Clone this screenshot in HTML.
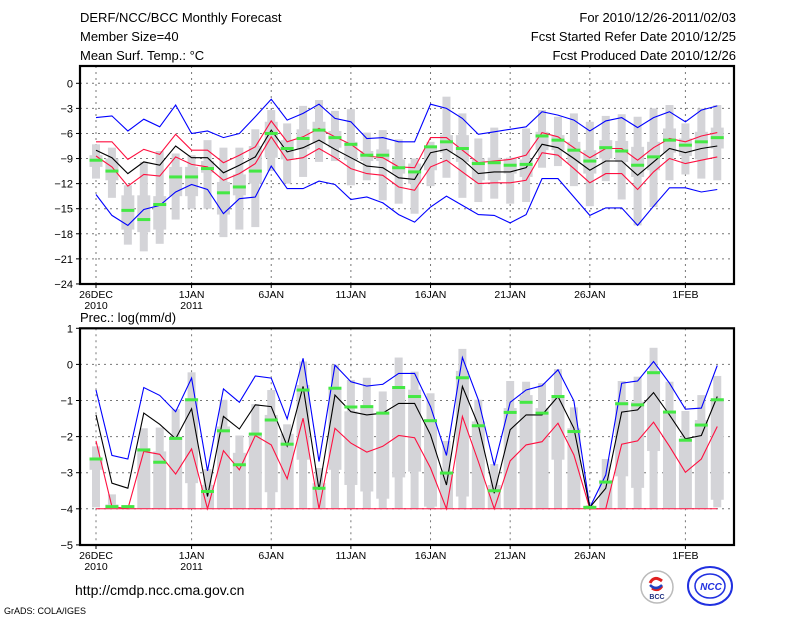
<!DOCTYPE html>
<html><head><meta charset="utf-8"><style>
html,body{margin:0;padding:0;background:#fff;}
svg{display:block;font-family:"Liberation Sans",sans-serif;}
</style></head><body>
<svg id="c" width="800" height="618" xmlns="http://www.w3.org/2000/svg">
<text x="80" y="22" font-size="13">DERF/NCC/BCC Monthly Forecast</text>
<text x="80" y="41" font-size="13">Member Size=40</text>
<text x="80" y="60" font-size="13">Mean Surf. Temp.: °C</text>
<text x="736" y="22" font-size="13" text-anchor="end">For 2010/12/26-2011/02/03</text>
<text x="736" y="41" font-size="13" text-anchor="end">Fcst Started Refer Date 2010/12/25</text>
<text x="736" y="60" font-size="13" text-anchor="end">Fcst Produced Date 2010/12/26</text>
<text x="80" y="322" font-size="13">Prec.: log(mm/d)</text>
<text x="75" y="595" font-size="14">http://cmdp.ncc.cma.gov.cn</text>
<text x="4" y="614" font-size="9">GrADS: COLA/IGES</text>
<g>
<circle cx="657" cy="587" r="16" fill="#fff" stroke="#bbb" stroke-width="1.5"/>
<path d="M650 583 q4 -8 12 -2 M652 588 q6 4 10 -2" stroke="#e02020" stroke-width="3" fill="none"/>
<path d="M650 585 q6 6 12 0" stroke="#2040c0" stroke-width="2.5" fill="none"/>
<text x="657" y="599" font-size="7" font-weight="bold" fill="#203080" text-anchor="middle">BCC</text>
</g>
<g>
<ellipse cx="710" cy="586" rx="22" ry="19" fill="#fff" stroke="#2030e0" stroke-width="2"/>
<ellipse cx="710" cy="586" rx="15" ry="12" fill="none" stroke="#2030e0" stroke-width="1.5"/>
<text x="711" y="590" font-size="10" font-weight="bold" font-style="italic" fill="#2030e0" text-anchor="middle">NCC</text>
</g>
</svg>
<script>
// ---- Temperature panel data ----
const days = [0,1,2,3,4,5,6,7,8,9,10,11,12,13,14,15,16,17,18,19,20,21,22,23,24,25,26,27,28,29,30,31,32,33,34,35,36,37,38,39];
const tBlueHi = [-4.1,-3.9,-5.7,-4.3,-5.2,-2.6,-6.0,-5.7,-6.5,-6.0,-4.0,-1.9,-4.4,-3.6,-2.5,-4.2,-4.6,-6.6,-6.5,-7.0,-7.0,-2.5,-3.0,-4.2,-6.1,-5.8,-5.5,-5.2,-3.4,-3.8,-4.4,-5.7,-4.5,-4.1,-5.3,-4.1,-3.4,-4.6,-3.2,-2.7];
const tRedHi = [-7.0,-7.0,-9.1,-7.9,-8.5,-6.1,-8.0,-8.0,-9.5,-8.6,-7.6,-4.5,-7.0,-6.4,-5.4,-6.4,-7.3,-8.7,-8.9,-10.0,-10.1,-6.5,-6.5,-8.0,-9.5,-9.3,-9.1,-8.6,-5.9,-6.4,-7.7,-8.9,-7.8,-7.8,-9.2,-7.7,-6.6,-7.0,-6.3,-5.9];
const tMean = [-8.0,-8.9,-10.8,-9.4,-9.8,-7.5,-8.9,-8.9,-10.7,-9.8,-8.8,-5.6,-8.2,-7.7,-6.8,-7.9,-8.9,-9.9,-10.1,-11.3,-11.5,-8.3,-7.9,-9.1,-10.8,-10.6,-10.6,-10.1,-7.3,-7.7,-9.0,-10.4,-9.3,-9.3,-11.0,-9.4,-7.8,-8.3,-7.8,-7.5];
const tRedLo = [-8.7,-10.0,-12.3,-10.9,-11.1,-8.8,-9.7,-10.0,-11.6,-10.8,-9.6,-6.4,-9.2,-8.9,-7.8,-8.9,-10.2,-10.8,-11.0,-12.4,-12.8,-10.0,-9.2,-10.6,-12.0,-11.9,-11.9,-11.6,-8.3,-8.6,-10.2,-11.9,-10.8,-10.8,-12.7,-10.6,-9.0,-9.6,-9.2,-8.8];
const tBlueLo = [-13.3,-15.8,-17.0,-15.1,-14.6,-13.0,-12.1,-12.7,-15.6,-13.8,-13.6,-9.9,-12.6,-12.6,-11.7,-12.1,-13.9,-13.6,-14.3,-15.7,-16.6,-14.8,-13.5,-14.6,-15.7,-15.8,-16.7,-15.7,-11.4,-11.4,-13.6,-15.8,-14.9,-14.9,-17.0,-14.7,-12.5,-12.5,-13.0,-12.7];
const tMax = [-7.3,-7.7,-12.2,-9.4,-8.1,-8.4,-8.6,-6.8,-7.7,-7.7,-5.5,-3.2,-4.8,-2.7,-2.0,-3.3,-3.1,-5.9,-5.6,-6.7,-9.0,-7.0,-1.6,-3.6,-6.6,-5.3,-8.9,-5.4,-3.2,-4.0,-3.6,-4.6,-3.9,-3.7,-4.0,-3.0,-2.6,-4.8,-3.0,-2.6];
const tQ3 = [-8.6,-9.0,-13.4,-13.4,-13.5,-10.0,-10.0,-9.3,-11.8,-10.9,-7.5,-4.6,-6.8,-5.5,-4.6,-5.7,-7.0,-8.1,-7.9,-9.1,-9.6,-7.6,-6.2,-6.2,-9.0,-8.9,-9.0,-9.1,-5.8,-6.2,-7.0,-8.0,-6.8,-6.9,-7.6,-7.0,-5.4,-6.6,-5.8,-5.3];
const tQ1 = [-10.0,-11.6,-17.5,-17.8,-17.5,-13.5,-13.5,-10.7,-15.7,-13.4,-12.0,-8.9,-9.1,-7.9,-7.2,-7.7,-9.2,-9.3,-9.3,-10.8,-12.0,-10.4,-8.3,-9.4,-11.6,-11.6,-10.8,-11.2,-8.0,-8.0,-9.6,-10.8,-9.0,-9.4,-11.2,-10.4,-8.3,-8.7,-9.1,-7.8];
const tMin = [-11.4,-13.7,-19.3,-20.1,-19.2,-16.3,-15.0,-15.0,-18.4,-17.5,-17.2,-10.5,-12.0,-11.2,-9.4,-9.3,-12.2,-11.6,-14.0,-14.4,-15.6,-12.3,-11.3,-13.7,-14.2,-13.8,-14.4,-14.2,-10.1,-9.9,-12.3,-14.7,-11.7,-13.9,-17.0,-14.8,-11.6,-10.9,-11.4,-11.6];
const tMed = [-9.2,-10.5,-15.2,-16.3,-14.5,-11.2,-11.2,-10.2,-13.1,-12.4,-10.5,-6.0,-7.8,-6.6,-5.6,-6.5,-7.3,-8.6,-8.6,-10.1,-10.6,-7.6,-7.0,-7.8,-9.6,-9.5,-9.8,-9.7,-6.3,-6.8,-8.0,-9.3,-7.7,-8.1,-9.8,-8.8,-6.8,-7.4,-7.0,-6.5];
const tTicks = [0,-3,-6,-9,-12,-15,-18,-21,-24];
// ---- Precipitation panel data ----
const pBlueHi = [-0.71,-2.52,-2.62,-0.64,-0.86,-1.31,-0.38,-2.95,-0.68,-1.05,-0.32,-0.38,-1.51,0.17,-2.69,-0.02,-0.48,-0.6,-0.55,-0.25,-0.25,-1.17,-2.52,0.19,-0.98,-2.8,-1.05,-0.71,-0.59,-0.15,-1.01,-3.96,-3.06,-0.52,-0.46,0.08,-0.52,-1.24,-1.21,-0.03];
const pMean = [-1.4,-3.29,-3.43,-1.35,-1.66,-2.06,-1.23,-3.66,-1.44,-1.79,-1.12,-1.17,-2.26,-0.61,-3.47,-0.85,-1.31,-1.4,-1.35,-1.08,-1.08,-1.95,-3.34,-0.61,-1.68,-3.57,-1.81,-1.4,-1.4,-0.89,-1.77,-3.96,-3.43,-1.32,-1.26,-0.78,-1.4,-2.06,-1.97,-0.89];
const pRedLo = [-2.12,-3.94,-4,-2.41,-2.49,-3.04,-2.34,-4,-2.39,-2.92,-1.97,-2.23,-3.17,-1.49,-4,-1.77,-2.18,-2.43,-2.27,-1.97,-2.03,-2.87,-4,-1.44,-2.69,-4,-2.67,-2.23,-2.14,-1.63,-2.51,-4,-4,-2.21,-2.12,-1.6,-2.27,-2.99,-2.62,-1.72];
const pMax = [-2.27,-3.6,-3.9,-1.77,-1.75,-1.24,-0.22,-2.9,-0.98,-1.97,-1.1,-0.71,-1.66,0.08,-2.87,-0.01,-0.43,-0.37,-0.75,0.19,-0.2,-0.8,-2.12,0.43,-0.98,-2.76,-0.46,-0.48,-0.52,-0.13,-1.19,-3.9,-2.62,-0.46,-0.34,0.46,-0.48,-1.29,-0.85,-0.32];
const pQ3 = [-2.6,-3.88,-3.9,-2.32,-2.41,-2.05,-0.94,-3.34,-1.72,-2.45,-1.9,-1.4,-1.92,-0.57,-3.29,-0.66,-1.3,-1.21,-1.31,-0.66,-0.7,-1.58,-3.0,-0.18,-1.58,-3.34,-1.21,-0.85,-1.21,-0.85,-1.77,-3.92,-3.2,-1.03,-1.03,-0.18,-1.31,-2.06,-1.54,-0.94];
const pQ1 = [-2.92,-4,-4,-4,-4,-4,-3.29,-4,-4,-4,-4,-3.54,-4,-2.64,-4,-2.92,-3.34,-3.52,-3.72,-3.13,-2.97,-3.94,-4,-3.66,-4,-4,-4,-4,-4,-2.64,-4,-4,-4,-3.1,-3.42,-2.4,-4,-4,-4,-3.75];
const pMin = [-3.96,-4,-4,-4,-4,-4,-4,-4,-4,-4,-4,-4,-4,-4,-4,-4,-4,-4,-4,-4,-4,-4,-4,-4,-4,-4,-4,-4,-4,-4,-4,-4,-4,-4,-4,-4,-4,-4,-4,-3.96];
const pMed = [-2.62,-3.94,-3.94,-2.37,-2.71,-2.05,-0.98,-3.52,-1.84,-2.78,-1.93,-1.54,-2.21,-0.71,-3.43,-0.66,-1.18,-1.17,-1.35,-0.64,-0.89,-1.56,-3.01,-0.37,-1.7,-3.5,-1.33,-1.05,-1.35,-0.89,-1.86,-3.96,-3.26,-1.09,-1.12,-0.23,-1.32,-2.1,-1.68,-0.98];
const pTicks = [1,0,-1,-2,-3,-4,-5];
// ---- X axis labels ----
const dateTickDays = [0,6,11,16,21,26,31,37];
const dateTickLabels = ["26DEC","1JAN","6JAN","11JAN","16JAN","21JAN","26JAN","1FEB"];
const yearTickDays = [0,6];
const yearTickLabels = ["2010","2011"];

const NS = "http://www.w3.org/2000/svg";
const svg = document.getElementById('c');
const L = 80, R = 734;
const xS = d => 96 + 15.93 * d;
const yT = v => 83.3 - v * 8.36;
const yP = v => 328.3 + (1 - v) * 36.1;
function mk(tag, attrs, parent) {
  const e = document.createElementNS(NS, tag);
  for (const k in attrs) e.setAttribute(k, attrs[k]);
  (parent || svg).appendChild(e);
  return e;
}

function panel(prefix, top, bottom, yF, ticks, series, boxes, floorLine) {
  const g = mk('g', {});
  
  
  ticks.forEach(t => {
    const y = yF(t);
    if (y > top + 1 && y < bottom - 1) {
      const gl = mk('line', {x1: L, x2: R, y1: y, y2: y, stroke: '#777', 'stroke-width': 1, 'stroke-dasharray': '2,4'}, g);
      
      
    }
    const tk = mk('line', {x1: L - 4, x2: L, y1: y, y2: y, stroke: '#000'}, g);
    
    
    const tx = mk('text', {x: L - 7, y: y + 4, 'font-size': 11, 'text-anchor': 'end'}, g);
    tx.textContent = String(t).replace('-', '\u2212');
    
    
  });
  dateTickDays.forEach((d, i) => {
    const x = xS(d);
    const gl = mk('line', {x1: x, x2: x, y1: top, y2: bottom, stroke: '#777', 'stroke-width': 1, 'stroke-dasharray': '2,4'}, g);
    
    
    const tk = mk('line', {x1: x, x2: x, y1: bottom, y2: bottom + 4, stroke: '#000'}, g);
    
    
    const tx = mk('text', {x: x, y: bottom + 14, 'font-size': 10.5, 'text-anchor': 'middle'}, g);
    tx.textContent = dateTickLabels[i];
    
    
  });
  yearTickDays.forEach((d, i) => {
    const tx = mk('text', {x: xS(d), y: bottom + 25, 'font-size': 10.5, 'text-anchor': 'middle'}, g);
    tx.textContent = yearTickLabels[i];
    
    
  });
  days.forEach((d, i) => {
    const x = xS(d);
    const o = mk('rect', {x: x - 4, y: yF(boxes.max[i]), width: 8, height: Math.max(1, yF(boxes.min[i]) - yF(boxes.max[i])), fill: '#d4d4d8'}, g);
    
    
    const b = mk('rect', {x: x - 6.5, y: yF(boxes.q3[i]), width: 13, height: Math.max(1, yF(boxes.q1[i]) - yF(boxes.q3[i])), fill: '#d4d4d8'}, g);
    
    
  });
  if (floorLine !== undefined) {
    const fl = mk('line', {x1: xS(days[0]), x2: xS(days[days.length - 1]), y1: yF(floorLine), y2: yF(floorLine), stroke: '#ff1040', 'stroke-width': 1}, g);
    
    
  }
  series.forEach(s => {
    const p = mk('polyline', {points: days.map((d, i) => xS(d) + ',' + yF(s.v[i]).toFixed(1)).join(' '), fill: 'none', stroke: s.c, 'stroke-width': 1.1}, g);
    
    
  });
  days.forEach((d, i) => {
    const m = mk('rect', {x: xS(d) - 6.5, y: yF(boxes.med[i]) - 1.5, width: 13, height: 3, fill: '#44e844'}, g);
    
    
  });
  const f = mk('rect', {x: L, y: top, width: R - L, height: bottom - top, fill: 'none', stroke: '#000', 'stroke-width': 2.2}, g);
  
  
}

panel('temp', 66, 284, yT, tTicks, [
  {v: tBlueHi, c: '#0000ff', n: 'temp-upper-bound-line'},
  {v: tBlueLo, c: '#0000ff', n: 'temp-lower-bound-line'},
  {v: tRedHi, c: '#ff1040', n: 'temp-upper-spread-line'},
  {v: tRedLo, c: '#ff1040', n: 'temp-lower-spread-line'},
  {v: tMean, c: '#000000', n: 'temp-ensemble-mean-line'}
], {max: tMax, q3: tQ3, q1: tQ1, min: tMin, med: tMed});

panel('precip', 328.3, 545, yP, pTicks, [
  {v: pBlueHi, c: '#0000ff', n: 'precip-upper-bound-line'},
  {v: pRedLo, c: '#ff1040', n: 'precip-lower-spread-line'},
  {v: pMean, c: '#000000', n: 'precip-ensemble-mean-line'}
], {max: pMax, q3: pQ3, q1: pQ1, min: pMin, med: pMed}, -4);
</script>
</body></html>
